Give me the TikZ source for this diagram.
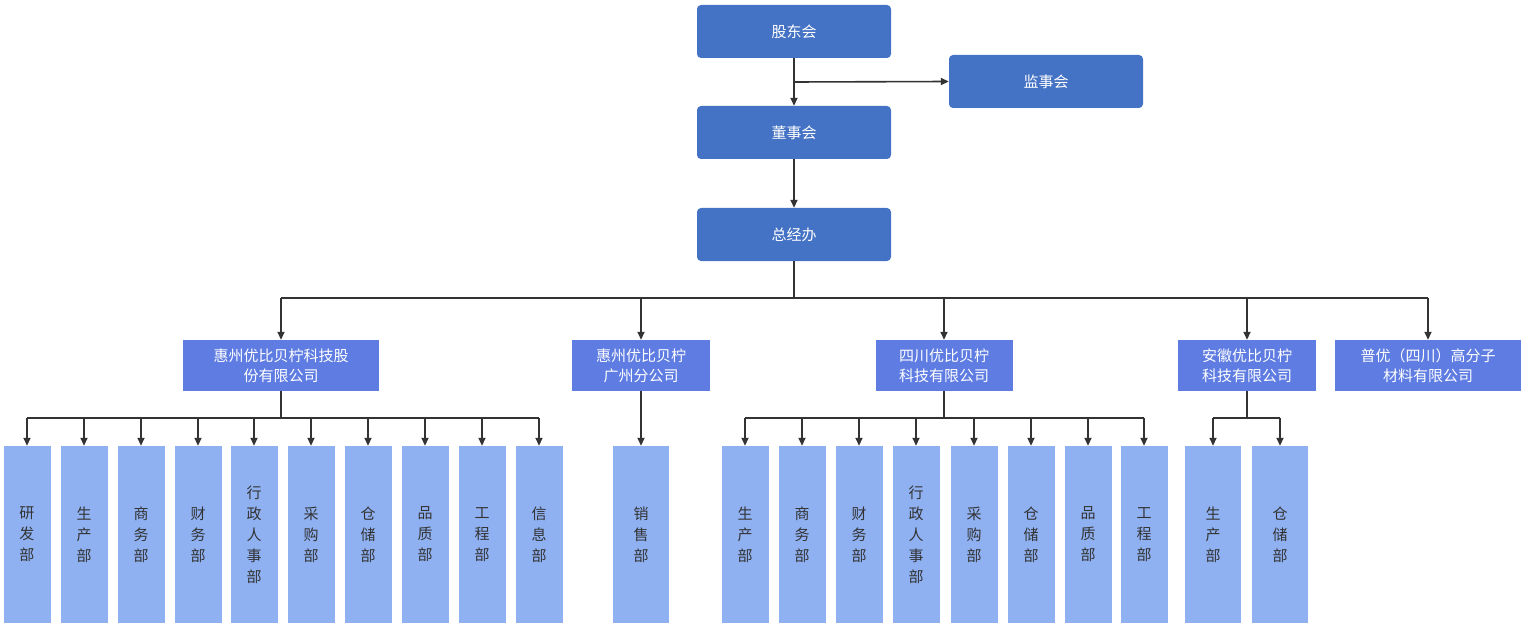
\documentclass[tikz,border=0pt]{standalone}
\usepackage{fontspec}
\setmainfont{Noto Sans CJK SC}
\usetikzlibrary{arrows.meta}
\definecolor{top}{HTML}{4472C4}
\definecolor{mid}{HTML}{5E7CE2}
\definecolor{low}{HTML}{8FB1F2}
\definecolor{ln}{HTML}{333333}
\begin{document}
\begin{tikzpicture}[x=1pt,y=-1pt,
  tb/.style={fill=top,rounded corners=4pt,minimum width=194pt,minimum height=53pt,text=white,font=\fontsize{15}{18}\selectfont},
  mb/.style={fill=mid,minimum height=51pt,text=white,align=center,font=\fontsize{15}{20}\selectfont,inner sep=0pt},
  lb/.style={fill=low,minimum width=47pt,minimum height=177pt,align=center,font=\fontsize{15}{21}\selectfont,text=black!80,inner sep=0pt},
  ar/.style={draw=ln,line width=1.6pt,-{Triangle[length=8pt,width=7pt]}},
  ln/.style={draw=ln,line width=1.6pt}]
\useasboundingbox (0,0) rectangle (1526,631);
\node[tb] (gd) at (794,31.5) {股东会};
\node[tb] (js) at (1046,81.5) {监事会};
\node[tb] (ds) at (794,132.5) {董事会};
\node[tb] (zj) at (794,234.5) {总经办};
\coordinate (b0) at (794,82);
\draw[ln] (gd.south) -- (b0);
\draw[ar] (b0) -- (ds.north);
\draw[ar] (b0) -- (js.west);
\draw[ar] (ds.south) -- (zj.south |- zj.north);
\node[mb,minimum width=196pt] (c1) at (281,365.5) {惠州优比贝柠科技股\\份有限公司};
\node[mb,minimum width=138pt] (c2) at (641,365.5) {惠州优比贝柠\\广州分公司};
\node[mb,minimum width=137pt] (c3) at (944,365.5) {四川优比贝柠\\科技有限公司};
\node[mb,minimum width=138pt] (c4) at (1247,365.5) {安徽优比贝柠\\科技有限公司};
\node[mb,minimum width=186pt] (c5) at (1428,365.5) {普优（四川）高分子\\材料有限公司};
\coordinate (zb) at (794,298);
\draw[ln] (zj.south) -- (zb);
\draw[ln] (c1.north |- zb) -- (c5.north |- zb);
\foreach \c in {c1,c2,c3,c4,c5} \draw[ar] (\c.north |- zb) -- (\c.north);
% group 1
\foreach \n/\x/\t in {a1/27/研\\发\\部,a2/84/生\\产\\部,a3/141/商\\务\\部,a4/198/财\\务\\部,a5/254/行\\政\\人\\事\\部,a6/311/采\\购\\部,a7/368/仓\\储\\部,a8/425/品\\质\\部,a9/482/工\\程\\部,a10/539/信\\息\\部}
  {\node[lb] (\n) at (\x,534.5) {\t}; \draw[ar] (\x,418) -- (\n.north);}
\draw[ln] (c1.south) -- (281,418);
\draw[ln] (27,418) -- (539,418);
% group 2
\node[lb,minimum width=56pt] (s1) at (641,534.5) {销\\售\\部};
\draw[ar] (c2.south) -- (s1.north);
% group 3
\foreach \n/\x/\t in {b1/745/生\\产\\部,b2/802/商\\务\\部,b3/859/财\\务\\部,b4/916/行\\政\\人\\事\\部,b5/974/采\\购\\部,b6/1031/仓\\储\\部,b7/1088/品\\质\\部,b8/1144/工\\程\\部}
  {\node[lb] (\n) at (\x,534.5) {\t}; \draw[ar] (\x,418) -- (\n.north);}
\draw[ln] (c3.south) -- (944,418);
\draw[ln] (745,418) -- (1144,418);
% group 4
\foreach \n/\x/\t in {d1/1213/生\\产\\部,d2/1280/仓\\储\\部}
  {\node[lb,minimum width=56pt] (\n) at (\x,534.5) {\t}; \draw[ar] (\x,418) -- (\n.north);}
\draw[ln] (c4.south) -- (1247,418);
\draw[ln] (1213,418) -- (1280,418);
\end{tikzpicture}
\end{document}
